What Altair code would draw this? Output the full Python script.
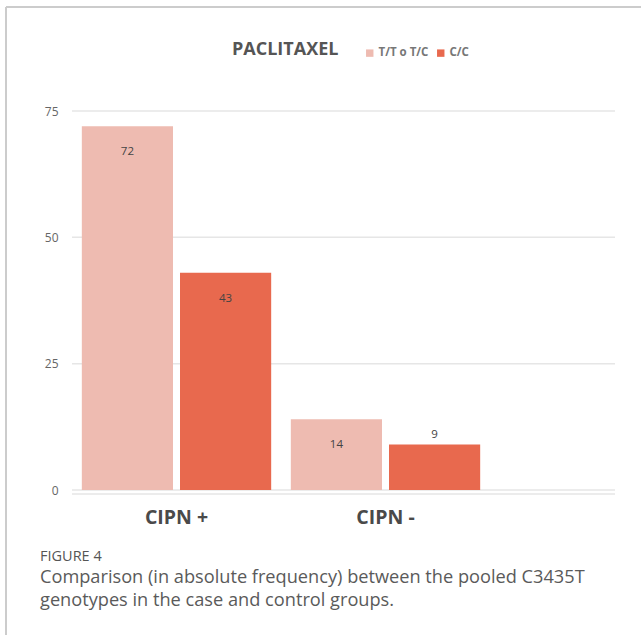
import altair as alt
import pandas as pd

groups = ["CIPN +", "CIPN +", "CIPN -", "CIPN -"]
genotypes = ["T/T o T/C", "C/C", "T/T o T/C", "C/C"]
counts = [72, 43, 14, 9]
group_order = ["CIPN +", "CIPN -"]
genotype_order = ["T/T o T/C", "C/C"]
colors = ["#EEBBB1", "#E8694E"]
y_ticks = [0, 25, 50, 75]

title_text = "PACLITAXEL"
fig_label = "FIGURE 4"
caption_lines = [
    "Comparison (in absolute frequency) between the pooled C3435T",
    "genotypes in the case and control groups.",
]

df = pd.DataFrame({"group": groups, "genotype": genotypes, "count": counts})
grid_df = pd.DataFrame({"count": y_ticks})

W, H = 543, 379
FONT = "Open Sans"

x_enc = alt.X("group:N", sort=group_order,
              scale=alt.Scale(domain=group_order, range=[0, 418], paddingInner=0, paddingOuter=0),
              axis=alt.Axis(title=None, labelAngle=0, domain=False, ticks=False, grid=False,
                            labelPadding=18, labelFontSize=19.5, labelFontWeight="bold",
                            labelColor="#4a4a4a", labelFont=FONT))
xo_enc = alt.XOffset("genotype:N", sort=genotype_order,
                     scale=alt.Scale(domain=genotype_order, paddingInner=0.0714, paddingOuter=0.1))
y_scale = alt.Scale(domain=[0, 75], nice=False)
y_axis = alt.Axis(title=None, values=y_ticks, domain=False, ticks=False,
                  labelPadding=14, labelFontSize=12, labelColor="#666666",
                  labelFont=FONT, grid=False)
y_enc = alt.Y("count:Q", scale=y_scale, axis=y_axis)

base = alt.Chart(df)

grid = alt.Chart(grid_df).mark_rule(color="#e6e6e6", strokeWidth=1.5).encode(
    y=alt.Y("count:Q", scale=y_scale, axis=y_axis),
    x=alt.value(0), x2=alt.value(W))

bars = base.mark_bar().encode(
    x=x_enc, xOffset=xo_enc, y=y_enc,
    color=alt.Color("genotype:N", sort=genotype_order,
                    scale=alt.Scale(domain=genotype_order, range=colors),
                    legend=alt.Legend(title=None, orient="none", legendX=292, legendY=-64,
                                      direction="horizontal", symbolType="square",
                                      symbolSize=55, symbolStrokeWidth=0,
                                      labelFontSize=11.5, labelFontWeight="bold",
                                      labelColor="#777777", labelFont=FONT,
                                      columnPadding=6, symbolOffset=0, labelOffset=3)),
)

lab_in = base.transform_filter("datum.count >= 10").mark_text(
    dy=26, fontSize=11.5, color="#444444", font=FONT, baseline="middle"
).encode(x=x_enc, xOffset=xo_enc, y=y_enc, text="count:Q")

lab_out = base.transform_filter("datum.count < 10").mark_text(
    dy=-10, fontSize=11.5, color="#444444", font=FONT, baseline="middle"
).encode(x=x_enc, xOffset=xo_enc, y=y_enc, text="count:Q")

deco = pd.DataFrame({"k": [0]})
axis_line = alt.Chart(deco).mark_rule(color="#e6e6e6", strokeWidth=1.5).encode(
    x=alt.value(0), x2=alt.value(W), y=alt.value(H + 4))

frame_top = alt.Chart(deco).mark_rule(color="#cccccc", strokeWidth=2).encode(
    x=alt.value(-66), x2=alt.value(641 - 72), y=alt.value(-104))
frame_left = alt.Chart(deco).mark_rule(color="#cccccc", strokeWidth=2).encode(
    x=alt.value(-66), y=alt.value(-104), y2=alt.value(635 - 111))

title_mark = alt.Chart(deco).mark_text(
    text=title_text, fontSize=18, fontWeight="bold", color="#555555", font=FONT,
    align="left", baseline="middle").encode(x=alt.value(232 - 72), y=alt.value(50 - 111))

fig_mark = alt.Chart(deco).mark_text(
    text=fig_label, fontSize=14.5, color="#555555", font=FONT,
    align="left", baseline="middle").encode(x=alt.value(40 - 72), y=alt.value(557 - 111))
cap1 = alt.Chart(deco).mark_text(
    text=caption_lines[0], fontSize=18.2, color="#5a5a5a", font=FONT,
    align="left", baseline="middle").encode(x=alt.value(40 - 72), y=alt.value(578 - 111))
cap2 = alt.Chart(deco).mark_text(
    text=caption_lines[1], fontSize=18.2, color="#5a5a5a", font=FONT,
    align="left", baseline="middle").encode(x=alt.value(40 - 72), y=alt.value(601 - 111))

chart = alt.layer(
    frame_top, frame_left, grid, axis_line, bars, lab_in, lab_out, title_mark, fig_mark, cap1, cap2
).properties(
    width=W, height=H,
    background="white",
    autosize=alt.AutoSizeParams(type="none"),
    padding={"left": 72, "top": 111, "right": 26, "bottom": 145},
).configure_view(stroke=None)

chart.save("out.html", embed_options={"renderer": "svg", "actions": False})
